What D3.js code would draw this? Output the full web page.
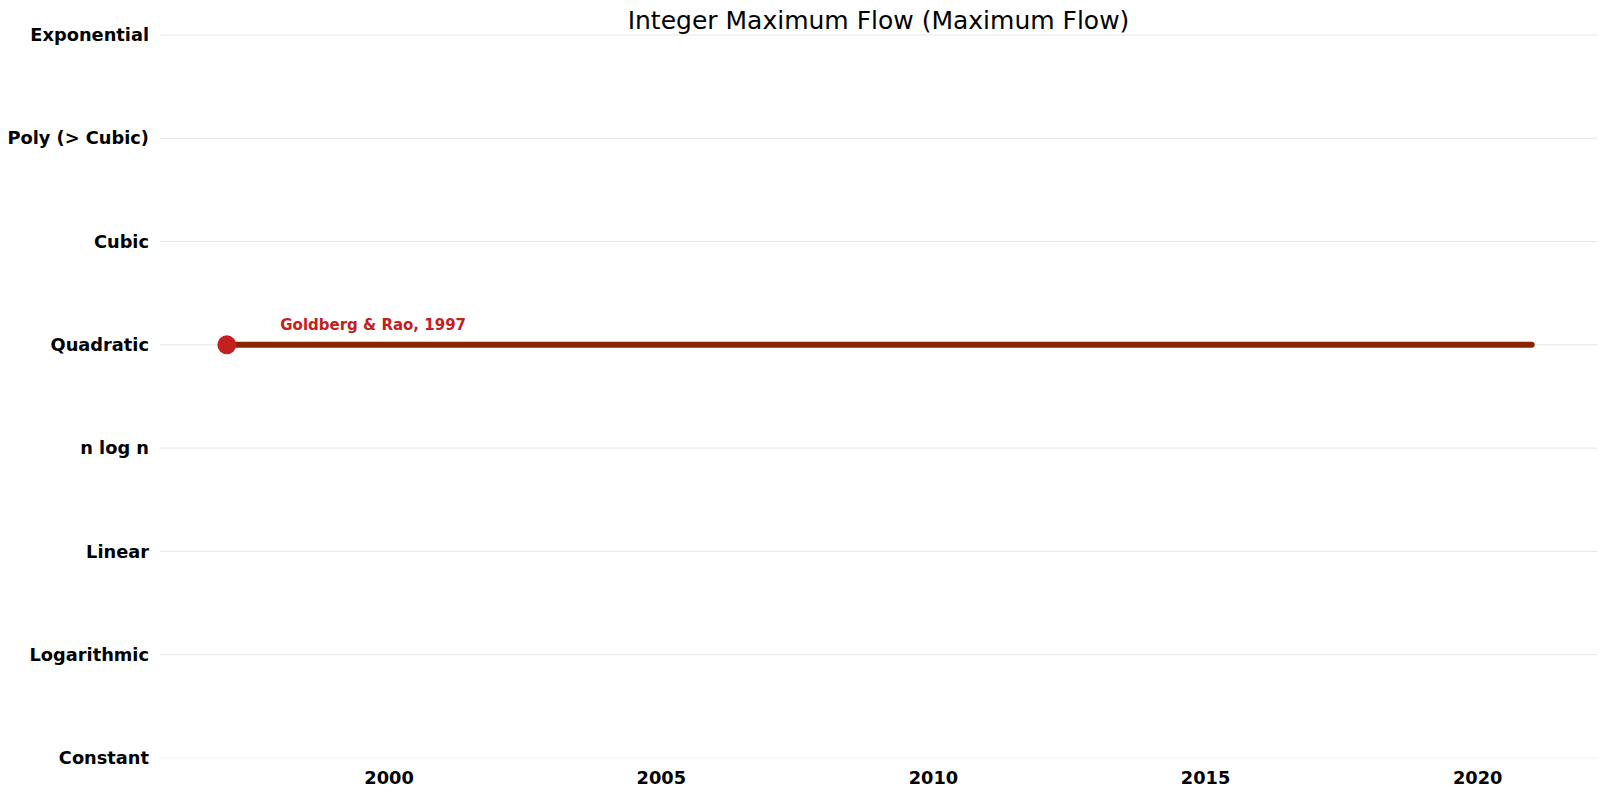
<!DOCTYPE html>
<html>
<head>
<meta charset="utf-8">
<script src="https://cdn.jsdelivr.net/npm/d3@7"></script>
<style>
  body { margin: 0; background: #fff; }
  text { font-family: "DejaVu Sans", sans-serif; }
</style>
</head>
<body>
<svg id="chart" width="1605" height="795"></svg>
<script>
// complexity classes, bottom to top
const classes = ["Constant", "Logarithmic", "Linear", "n log n", "Quadratic", "Cubic", "Poly (> Cubic)", "Exponential"];
const yearTicks = [2000, 2005, 2010, 2015, 2020];

// algorithms: year and complexity class
const algoNames = ["Goldberg & Rao"];
const algoYears = [1997];
const algoClass = ["Quadratic"];

// best-known line runs from first algorithm to the current year
const stepYears = [1997, 2021];
const stepClass = ["Quadratic", "Quadratic"];

const svg = d3.select("#chart");

const x = d3.scaleLinear()
	.domain([1995.8, 2022.2])
	.range([160, 1597]);

const y = d3.scaleLinear()
	.domain([0, classes.length - 1])
	.range([758, 35]);

// gridlines
svg.append("g")
	.selectAll("line")
	.data(classes)
	.enter()
	.append("line")
	.attr("x1", x.range()[0])
	.attr("x2", x.range()[1])
	.attr("y1", (d, i) => y(i))
	.attr("y2", (d, i) => y(i))
	.attr("stroke", (d, i) => i === 0 ? "#f6f6f6" : "#e6e6e6")
	.attr("stroke-width", 1);

// y axis labels
const yAxis = d3.axisLeft(y)
	.tickValues(d3.range(classes.length))
	.tickFormat(i => classes[i])
	.tickSize(0)
	.tickPadding(11);

svg.append("g")
	.attr("transform", `translate(${x.range()[0]},0)`)
	.call(yAxis)
	.call(g => g.select(".domain").remove())
	.selectAll("text")
	.attr("font-family", "DejaVu Sans, sans-serif")
	.attr("font-size", 17.8)
	.attr("font-weight", "bold")
	.attr("fill", "#000");

// x axis labels
const xAxis = d3.axisBottom(x)
	.tickValues(yearTicks)
	.tickFormat(d3.format("d"))
	.tickSize(0)
	.tickPadding(13);

svg.append("g")
	.attr("transform", `translate(0,${y.range()[0]})`)
	.call(xAxis)
	.call(g => g.select(".domain").remove())
	.selectAll("text")
	.attr("font-family", "DejaVu Sans, sans-serif")
	.attr("font-size", 17.8)
	.attr("font-weight", "bold")
	.attr("fill", "#000");

// best-known line
const line = d3.line()
	.x((d, i) => x(stepYears[i]))
	.y((d, i) => y(classes.indexOf(stepClass[i])));

svg.append("path")
	.datum(stepYears)
	.attr("d", line)
	.attr("fill", "none")
	.attr("stroke", "#892400")
	.attr("stroke-width", 6)
	.attr("stroke-linecap", "round");

// algorithm points
svg.append("g")
	.selectAll("circle")
	.data(algoNames)
	.enter()
	.append("circle")
	.attr("cx", (d, i) => x(algoYears[i]) + 1.5)
	.attr("cy", (d, i) => y(classes.indexOf(algoClass[i])))
	.attr("r", 9.5)
	.attr("fill", "#c42020");

svg.append("g")
	.selectAll("text")
	.data(algoNames)
	.enter()
	.append("text")
	.attr("x", (d, i) => x(algoYears[i]) + 55)
	.attr("y", (d, i) => y(classes.indexOf(algoClass[i])) - 15)
	.attr("font-size", 15)
	.attr("font-weight", "bold")
	.attr("fill", "#c42020")
	.text((d, i) => `${d}, ${algoYears[i]}`);

// title
svg.append("text")
	.attr("x", (x.range()[0] + x.range()[1]) / 2)
	.attr("y", 29)
	.attr("text-anchor", "middle")
	.attr("font-size", 25)
	.attr("fill", "#000")
	.text("Integer Maximum Flow (Maximum Flow)");
</script>
</body>
</html>
